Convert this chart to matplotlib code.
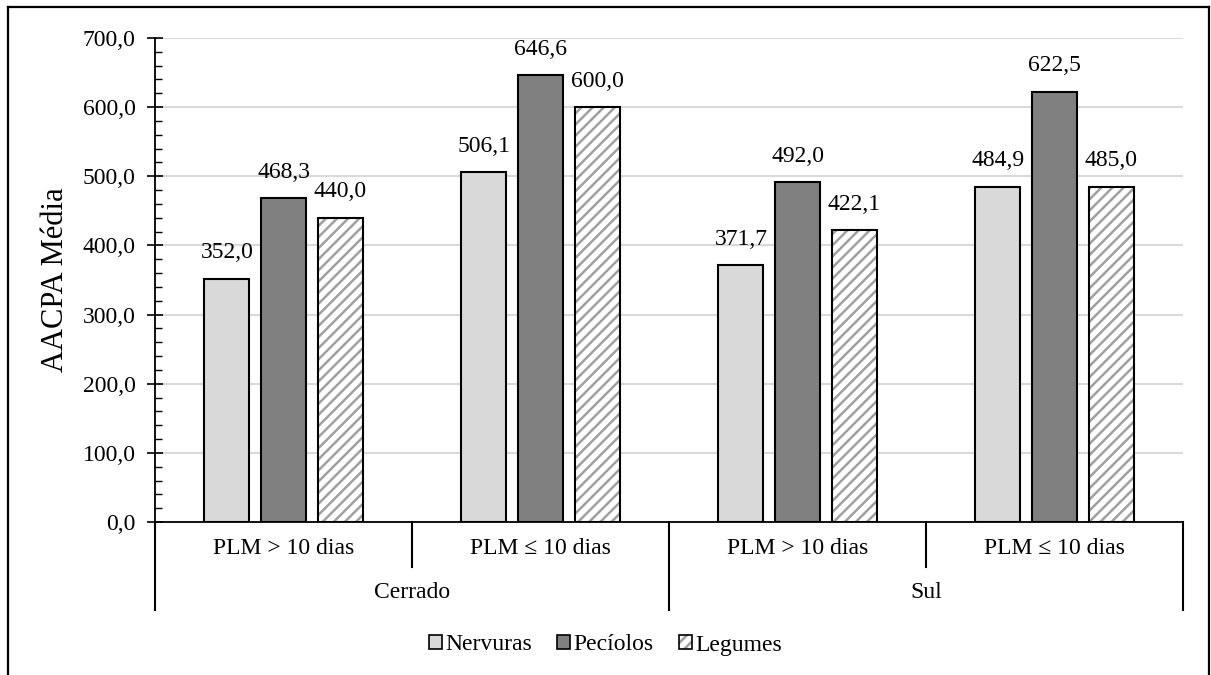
import matplotlib
matplotlib.use("Agg")
import matplotlib.pyplot as plt
from matplotlib.patches import Patch
from matplotlib.lines import Line2D
from matplotlib.colors import to_rgba
from matplotlib.ticker import MultipleLocator

plt.rcParams['font.family'] = ['Liberation Serif', 'DejaVu Serif']
plt.rcParams['hatch.linewidth'] = 1.8

regions = ["Cerrado", "Sul"]
periods = ["PLM > 10 dias", "PLM \u2264 10 dias"]
series = ["Nervuras", "Pecíolos", "Legumes"]
nervuras = [352.0, 506.1, 371.7, 484.9]
peciolos = [468.3, 646.6, 492.0, 622.5]
legumes = [440.0, 600.0, 422.1, 485.0]
yticks = [0, 100, 200, 300, 400, 500, 600, 700]

W, H = 1211, 675
fig = plt.figure(figsize=(W / 100, H / 100), dpi=100)

# Outer frame of the figure (open at the bottom)
for xs, ys in (([8, 8], [0, 7]), ([8, 1209], [7, 7]), ([1209, 1209], [7, 0])):
    yy = [1 - v / H if v else 0 for v in ys]
    fig.add_artist(Line2D([x / W for x in xs], yy, color='black', lw=1.6, transform=fig.transFigure))

left, right, top, bottom = 155, 1183, 38, 522
ax = fig.add_axes([left / W, 1 - bottom / H, (right - left) / W, (bottom - top) / H])

ncat = len(nervuras)
centers = [i + 0.5 for i in range(ncat)]
width = 0.175
step = 0.22
fs = 17
hatch = '///'
hatch_gray = '#a0a0a0'

ax.bar([c - step for c in centers], nervuras, width, color='#d9d9d9', edgecolor='black', lw=1.5, zorder=3)
ax.bar(centers, peciolos, width, color='#808080', edgecolor='black', lw=1.5, zorder=3)
ax.bar([c + step for c in centers], legumes, width, color='white', edgecolor=hatch_gray, lw=0,
       hatch=hatch, zorder=3)
ax.bar([c + step for c in centers], legumes, width, fill=False, edgecolor='black', lw=1.5, zorder=4)

for vals, off in ((nervuras, -step), (peciolos, 0), (legumes, step)):
    for c, v in zip(centers, vals):
        ax.annotate(f"{v:.1f}".replace('.', ','), (c + off, v), xytext=(0, 11),
                    textcoords='offset points', ha='center', va='bottom', fontsize=fs)

ax.set_xlim(0, ncat)
ax.set_ylim(0, 700)
ax.set_yticks(yticks)
ax.set_yticklabels([f"{t:.1f}".replace('.', ',') for t in yticks], fontsize=fs)
ax.yaxis.set_minor_locator(MultipleLocator(20))
ax.tick_params(axis='y', which='major', direction='inout', length=12, width=1.2, pad=8)
ax.tick_params(axis='y', which='minor', direction='in', length=5, width=1.0)
ax.set_xticks([])
ax.yaxis.grid(True, which='major', color='#d9d9d9', lw=1.5, zorder=0)
ax.set_axisbelow(True)
for s in ('top', 'right'):
    ax.spines[s].set_visible(False)
ax.spines['left'].set_linewidth(1.3)
ax.spines['bottom'].set_linewidth(1.3)
ax.set_ylabel("AACPA Média", fontsize=22, labelpad=9)

# Two-level category axis
xt = ax.get_xaxis_transform()
span = bottom - top
y_short = -(567 - bottom) / span
y_long = -(610 - bottom) / span
y_lab1 = -(549 - bottom) / span
y_lab2 = -(592 - bottom) / span
for i in range(ncat + 1):
    y_end = y_long if i % 2 == 0 else y_short
    ax.plot([i, i], [0, y_end], color='black', lw=1.5, transform=xt, clip_on=False)
for i, c in enumerate(centers):
    ax.text(c, y_lab1, periods[i % 2], transform=xt, ha='center', va='center', fontsize=fs)
for j, r in enumerate(regions):
    ax.text(2 * j + 1, y_lab2, r, transform=xt, ha='center', va='center', fontsize=fs)

# Legend: black outline with gray hatching for the last entry
h1 = Patch(facecolor='#d9d9d9', edgecolor='black', lw=1.2)
h2 = Patch(facecolor='#808080', edgecolor='black', lw=1.2)
h3 = Patch(facecolor='white', edgecolor='black', lw=1.2, hatch=hatch)
h3._hatch_color = to_rgba(hatch_gray)
fig.legend([h1, h2, h3], series, loc='center', bbox_to_anchor=(0.5, 1 - 645 / H),
           ncol=3, frameon=False, fontsize=fs, handlelength=0.55, handleheight=0.55,
           handletextpad=0.15, columnspacing=1.05)

fig.savefig("out.png", dpi=100)
